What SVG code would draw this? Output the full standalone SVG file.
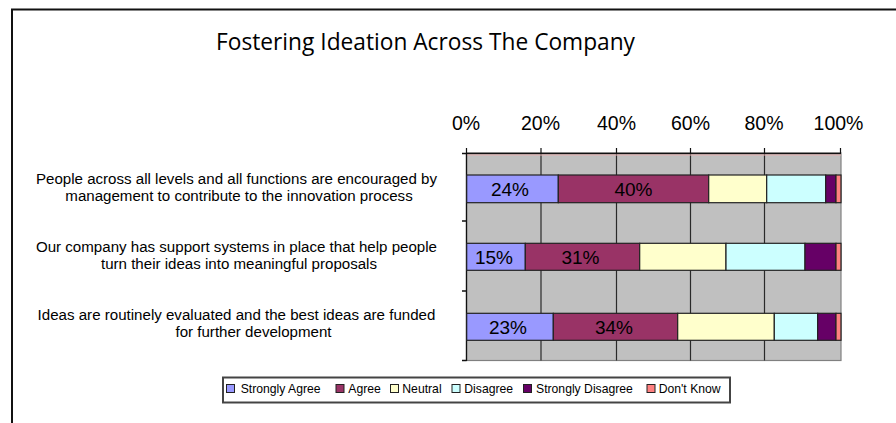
<svg xmlns="http://www.w3.org/2000/svg" width="896" height="423" viewBox="0 0 896 423">
<style>
text{font-family:"Liberation Sans",Arial,sans-serif;fill:#000}
.title{font-family:"Open Sans","Noto Sans",sans-serif;font-size:24px}
.ax{font-size:19.5px;text-anchor:middle}
.cat{font-size:15.1px;text-anchor:middle}
.val{font-size:19px;text-anchor:middle}
.leg{font-size:12.2px}
.grid{stroke:#2a2a2a;stroke-width:1.2;fill:none}
.seg{stroke:#222;stroke-width:1.2}
.sa{fill:#9999FF}.ag{fill:#993366}.ne{fill:#FFFFCC}.di{fill:#CCFFFF}.sd{fill:#660066}.dk{fill:#FF8080}
.sq{stroke:#222;stroke-width:1}
</style>
<rect x="0" y="0" width="896" height="423" fill="#fff"/>
<g id="frame"><path d="M12 423 V9.5 H896" fill="none" stroke="#111" stroke-width="2"/></g>
<g id="title"><text class="title" x="216" y="50" textLength="419" lengthAdjust="spacingAndGlyphs">Fostering Ideation Across The Company</text></g>
<g id="axis-labels">
<text class="ax" x="466" y="130">0%</text>
<text class="ax" x="540.5" y="130">20%</text>
<text class="ax" x="616.5" y="130">40%</text>
<text class="ax" x="690.5" y="130">60%</text>
<text class="ax" x="764" y="130">80%</text>
<text class="ax" x="838.5" y="130">100%</text>
</g>
<g id="plot">
<rect x="466.5" y="153" width="374.5" height="207.5" fill="#C0C0C0" stroke="#808080" stroke-width="1.2"/>
<path class="grid" d="M541 153V360.5M616.5 153V360.5M690.5 153V360.5M764.5 153V360.5"/>
<path d="M462 153.5H841" stroke="#111" stroke-width="1.3"/>
<path d="M467 155H841" stroke="#e8b0b0" stroke-width="1"/>
<path d="M466.5 148V153M541 148V153M616.5 148V153M690.5 148V153M764.5 148V153M840.5 148V153" stroke="#111" stroke-width="1.2"/>
<path d="M466.5 153V361M462 221H466.5M462 291H466.5M462 360.5H466.5" stroke="#111" stroke-width="1.3"/>
</g>
<g id="bar1">
<rect class="seg sa" x="466.7" y="175" width="91.6" height="27.7"/>
<rect class="seg ag" x="558.3" y="175" width="150.4" height="27.7"/>
<rect class="seg ne" x="708.7" y="175" width="58" height="27.7"/>
<rect class="seg di" x="766.7" y="175" width="59" height="27.7"/>
<rect class="seg sd" x="825.7" y="175" width="10.3" height="27.7"/>
<rect class="seg dk" x="836" y="175" width="5" height="27.7"/>
<text class="val" x="510" y="195.5">24%</text>
<text class="val" x="633.5" y="195.5">40%</text>
</g>
<g id="bar2">
<rect class="seg sa" x="466.7" y="243.3" width="58.6" height="27"/>
<rect class="seg ag" x="525.3" y="243.3" width="114.4" height="27"/>
<rect class="seg ne" x="639.7" y="243.3" width="86.3" height="27"/>
<rect class="seg di" x="726" y="243.3" width="79" height="27"/>
<rect class="seg sd" x="805" y="243.3" width="31" height="27"/>
<rect class="seg dk" x="836" y="243.3" width="5" height="27"/>
<text class="val" x="494" y="263.5">15%</text>
<text class="val" x="580.5" y="263.5">31%</text>
</g>
<g id="bar3">
<rect class="seg sa" x="466.7" y="313.3" width="86.6" height="27"/>
<rect class="seg ag" x="553.3" y="313.3" width="124.4" height="27"/>
<rect class="seg ne" x="677.7" y="313.3" width="96.6" height="27"/>
<rect class="seg di" x="774.3" y="313.3" width="43.4" height="27"/>
<rect class="seg sd" x="817.7" y="313.3" width="18.3" height="27"/>
<rect class="seg dk" x="836" y="313.3" width="5" height="27"/>
<text class="val" x="508" y="333.5">23%</text>
<text class="val" x="614" y="333.5">34%</text>
</g>
<g id="category-labels">
<text class="cat" x="236.5" y="183.5">People across all levels and all functions are encouraged by</text>
<text class="cat" x="239" y="200.5">management to contribute to the innovation process</text>
<text class="cat" x="236.5" y="251.5">Our company has support systems in place that help people</text>
<text class="cat" x="239" y="268.5">turn their ideas into meaningful proposals</text>
<text class="cat" x="236.5" y="320">Ideas are routinely evaluated and the best ideas are funded</text>
<text class="cat" x="253.5" y="337">for further development</text>
</g>
<g id="legend">
<rect x="223" y="377.5" width="507" height="25" fill="#fff" stroke="#444" stroke-width="2"/>
<rect class="sq sa" x="226.5" y="384.5" width="8" height="8"/>
<text class="leg" x="240.7" y="392.5">Strongly Agree</text>
<rect class="sq ag" x="336" y="384.5" width="8" height="8"/>
<text class="leg" x="348.3" y="392.5">Agree</text>
<rect class="sq ne" x="390.5" y="384.5" width="8" height="8"/>
<text class="leg" x="402.3" y="392.5">Neutral</text>
<rect class="sq di" x="452" y="384.5" width="8" height="8"/>
<text class="leg" x="464.3" y="392.5">Disagree</text>
<rect class="sq sd" x="523.5" y="384.5" width="8" height="8"/>
<text class="leg" x="536" y="392.5">Strongly Disagree</text>
<rect class="sq dk" x="647" y="384.5" width="8" height="8"/>
<text class="leg" x="658.7" y="392.5">Don't Know</text>
</g>
</svg>
